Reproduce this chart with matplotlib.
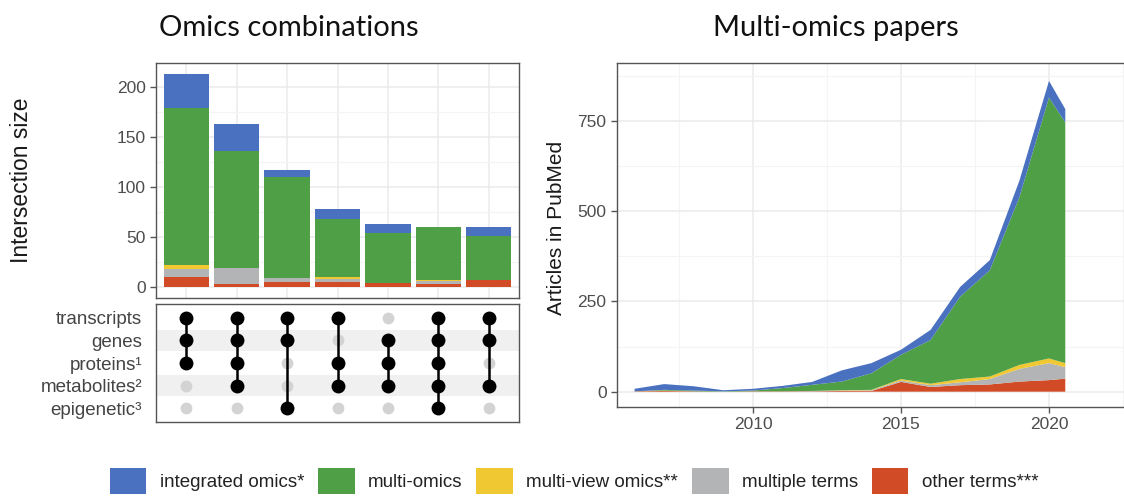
import matplotlib
matplotlib.use("Agg")
import matplotlib.pyplot as plt
from matplotlib.patches import Patch
import numpy as np

plt.rcParams['font.family'] = ['Liberation Sans', 'DejaVu Sans']

# ---- data -------------------------------------------------------------
legends = ["integrated omics*", "multi-omics", "multi-view omics**",
           "multiple terms", "other terms***"]
colors = ["#4A70C0", "#4E9F46", "#F0C832", "#B2B4B6", "#D24B27"]

omics = ["transcripts", "genes", "proteins\u00b9", "metabolites\u00b2", "epigenetic\u00b3"]
combos = [
    ["transcripts", "genes", "proteins\u00b9"],
    ["transcripts", "genes", "proteins\u00b9", "metabolites\u00b2"],
    ["transcripts", "genes", "epigenetic\u00b3"],
    ["transcripts", "proteins\u00b9", "metabolites\u00b2"],
    ["genes", "proteins\u00b9", "metabolites\u00b2"],
    ["transcripts", "genes", "proteins\u00b9", "metabolites\u00b2", "epigenetic\u00b3"],
    ["transcripts", "genes", "metabolites\u00b2"],
]
bar_integrated = [34, 27, 7, 10, 9, 0, 9]
bar_multi = [157, 117, 101, 58, 50, 53, 44]
bar_multiview = [4, 0, 0, 2, 0, 1, 0]
bar_multiple = [8, 16, 4, 3, 0, 3, 0]
bar_other = [10, 3, 5, 5, 4, 3, 7]

years = [2006, 2007, 2008, 2009, 2010, 2011, 2012, 2013, 2014, 2015,
         2016, 2017, 2018, 2019, 2020, 2020.55]
pap_other = [1, 2, 1, 0, 1, 1, 1, 2, 2, 27, 13, 18, 20, 28, 32, 36]
pap_multiple = [0, 0, 0, 0, 0, 0, 1, 1, 2, 4, 5, 8, 15, 35, 47, 32]
pap_multiview = [0, 1, 0, 0, 0, 0, 0, 1, 1, 4, 4, 9, 7, 11, 13, 11]
pap_multi = [0, 2, 2, 1, 2, 9, 17, 24, 46, 67, 121, 228, 294, 464, 722, 666]
pap_integrated = [7, 16, 12, 3, 5, 6, 8, 31, 28, 14, 28, 27, 28, 46, 46, 37]

# ---- layout helpers ---------------------------------------------------
W, H = 1124, 500
def rect(l, t, r, b):
    return [l / W, 1 - b / H, (r - l) / W, (b - t) / H]

tick_col = "#4D4D4D"
grid_major = "#EBEBEB"
grid_minor = "#F4F4F4"
border_col = "#555555"

fig = plt.figure(figsize=(W / 100, H / 100), dpi=100)
fig.patch.set_facecolor("white")

def style_axes(ax):
    for s in ax.spines.values():
        s.set_color(border_col)
        s.set_linewidth(1.0)
    ax.tick_params(colors=border_col, labelcolor=tick_col, labelsize=12.5,
                   length=4, width=1)
    ax.set_axisbelow(True)

# ---- bar panel --------------------------------------------------------
axb = fig.add_axes(rect(156, 63, 519, 298))
style_axes(axb)
x = np.arange(1, len(combos) + 1)
bottom = np.zeros(len(combos))
for vals, col in zip([bar_other, bar_multiple, bar_multiview, bar_multi, bar_integrated],
                     colors[::-1]):
    axb.bar(x, vals, 0.9, bottom=bottom, color=col, linewidth=0)
    bottom += np.array(vals)
axb.set_xlim(0.4, len(combos) + 0.6)
axb.set_ylim(-10.65, 223.65)
axb.set_yticks([0, 50, 100, 150, 200])
axb.set_yticks([25, 75, 125, 175], minor=True)
axb.set_xticks(x)
axb.tick_params(axis='x', length=0, labelbottom=False)
axb.tick_params(axis='y', which='minor', length=0)
axb.grid(True, which='major', color=grid_major, linewidth=1.1)
axb.grid(True, which='minor', axis='y', color=grid_minor, linewidth=0.8)
fig.text(22 / W, 1 - 180 / H, "Intersection size", rotation=90,
         ha='center', va='center', fontsize=16.5, color="#1A1A1A")

# ---- matrix panel -----------------------------------------------------
axm = fig.add_axes(rect(156, 304, 519, 422))
style_axes(axm)
ypos = {name: len(omics) - 1 - i for i, name in enumerate(omics)}
for i, name in enumerate(omics):
    if i % 2 == 1:
        axm.axhspan(ypos[name] - 0.45, ypos[name] + 0.45, color="#F0F0F0",
                    linewidth=0, zorder=0)
for xi, combo in zip(x, combos):
    for name in omics:
        if name not in combo:
            axm.plot(xi, ypos[name], 'o', color="#D3D3D3", markersize=8.5,
                     markeredgewidth=0, zorder=2)
    ys = [ypos[n] for n in combo]
    axm.plot([xi, xi], [min(ys), max(ys)], color="black", linewidth=1.8, zorder=3)
    axm.plot([xi] * len(ys), ys, 'o', color="black", markersize=10,
             markeredgewidth=0, zorder=4)
axm.set_xlim(0.4, len(combos) + 0.6)
axm.set_ylim(-0.6, len(omics) - 0.4)
axm.set_xticks([])
axm.set_yticks([ypos[n] for n in omics])
axm.set_yticklabels(omics)
axm.tick_params(axis='y', length=0, labelsize=13.5, labelcolor="#444444", pad=10)

# ---- area panel -------------------------------------------------------
axa = fig.add_axes(rect(617, 63, 1140, 407))
style_axes(axa)
axa.stackplot(years, pap_other, pap_multiple, pap_multiview, pap_multi,
              pap_integrated, colors=colors[::-1], linewidth=0)
px_per_year = 29.6
x0 = 2010 - (753 - 617) / px_per_year
x1 = 2010 + (1140 - 753) / px_per_year
axa.set_xlim(x0, x1)
axa.set_ylim(-42.4, 909.6)
axa.set_xticks([2010, 2015, 2020])
axa.set_xticks([2007.5, 2012.5, 2017.5, 2022.5], minor=True)
axa.set_yticks([0, 250, 500, 750])
axa.set_yticks([125, 375, 625, 875], minor=True)
axa.tick_params(which='minor', length=0)
axa.grid(True, which='major', color=grid_major, linewidth=1.1)
axa.grid(True, which='minor', color=grid_minor, linewidth=0.8)
fig.text(556 / W, 1 - 228 / H, "Articles in PubMed", rotation=90,
         ha='center', va='center', fontsize=15, color="#1A1A1A")

# ---- titles -----------------------------------------------------------
fig.text(289 / W, 1 - 36 / H, "Omics combinations", ha='center',
         va='baseline', fontsize=21, family=['Lato', 'DejaVu Sans'],
         color="#111111")
fig.text(836 / W, 1 - 36 / H, "Multi-omics papers", ha='center',
         va='baseline', fontsize=21, family=['Lato', 'DejaVu Sans'],
         color="#111111")

# ---- legend -----------------------------------------------------------
handles = [Patch(facecolor=c, edgecolor='none') for c in colors]
fig.legend(handles, legends, loc='center', bbox_to_anchor=(574 / W, 1 - 481 / H),
           ncol=5, frameon=False, fontsize=13.5, handlelength=1.95,
           handleheight=1.8, handletextpad=0.7, columnspacing=0.75,
           labelcolor="#222222")

fig.savefig("out.png", dpi=100, facecolor="white")
